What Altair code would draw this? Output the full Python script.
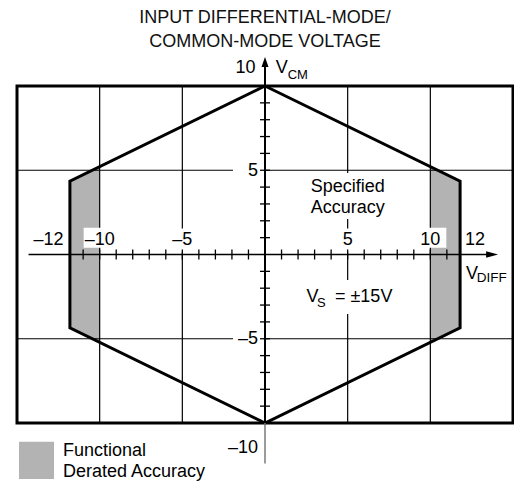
import altair as alt
import pandas as pd

FONT = "Liberation Sans"
INK = "#000000"
FILL_GRAY = "#b3b3b3"

# ---- data -------------------------------------------------------------
hex_x = [0, 11.8, 11.8, 0, -11.8, -11.8, 0]
hex_y = [10, 4.35, -4.35, -10, -4.35, 4.35, 10]

der_side = ["right", "right", "left", "left"]
der_x = [10, 11.8, -11.8, -10]
der_top = [5.2, 4.35, 4.35, 5.2]
der_bot = [-5.2, -4.35, -4.35, -5.2]

grid_x = [-10, -5, 5, 10]
grid_y = [-5, 5]

x_ticks = [v for v in range(-11, 12) if v != 0]
y_ticks = [v for v in range(-9, 10) if v != 0]

x_label_text = ["\u201312", "\u201310", "\u20135", "5", "10", "12"]
x_label_pos = [-13.1, -10, -5, 5, 10, 12.7]

# ---- scales -----------------------------------------------------------
xs = alt.Scale(domain=[-15, 15], nice=False, zero=False)
ys = alt.Scale(domain=[-10, 10], nice=False, zero=False)


def X(f):
    return alt.X(f, type="quantitative", scale=xs, axis=None)


def Y(f):
    return alt.Y(f, type="quantitative", scale=ys, axis=None)


def XD(v):
    return alt.X(datum=v, type="quantitative", scale=xs, axis=None)


def YD(v):
    return alt.Y(datum=v, type="quantitative", scale=ys, axis=None)


one = pd.DataFrame({"a": [0]})

hex_df = pd.DataFrame({"x": hex_x, "y": hex_y, "i": list(range(len(hex_x)))})
der_df = pd.DataFrame({"side": der_side, "x": der_x, "top": der_top, "bot": der_bot})
gx_df = pd.DataFrame({"x": grid_x})
gy_df = pd.DataFrame({"y": grid_y})
xt_df = pd.DataFrame({"x": x_ticks})
yt_df = pd.DataFrame({"y": y_ticks})
xl_df = pd.DataFrame({"x": x_label_pos, "t": x_label_text})

layers = []

# derated regions
layers.append(
    alt.Chart(der_df).mark_area(color=FILL_GRAY, opacity=1).encode(
        x=X("x"), y=Y("top"), y2=alt.Y2("bot"), detail="side"
    )
)

# grid lines
layers.append(
    alt.Chart(gx_df).mark_rule(color=INK, strokeWidth=1.2).encode(
        x=X("x"), y=YD(-10), y2=alt.Y2(datum=10)
    )
)
layers.append(
    alt.Chart(gy_df).mark_rule(color=INK, strokeWidth=1.2).encode(
        y=Y("y"), x=XD(-15), x2=alt.X2(datum=15)
    )
)


def shape(df, xf, yf, path, color="white", xo=0, yo=0):
    return alt.Chart(df).mark_point(
        shape=path, filled=True, color=color, opacity=1, size=4,
        strokeWidth=0, xOffset=xo, yOffset=yo
    ).encode(x=xf, y=yf)


# white label backgrounds
layers.append(shape(pd.DataFrame({"x": [-10, 10]}), X("x"), YD(0),
                    "M-16,-10H16V10H-16Z", yo=-16.7))
layers.append(shape(pd.DataFrame({"x": [-5, 5]}), X("x"), YD(0),
                    "M-15,-12H15V12H-15Z", yo=-14))
layers.append(shape(pd.DataFrame({"y": [-5, 5]}), XD(0), Y("y"),
                    "M-15.5,-8H15.5V8H-15.5Z", xo=-16.5))
layers.append(shape(one, XD(5), YD(5), "M-40,-23H40V23H-40Z", yo=25.75))
layers.append(shape(one, XD(5), YD(0), "M-44,-17H44V17H-44Z", yo=42.5))

# hexagon outline
layers.append(
    alt.Chart(hex_df).mark_line(color=INK, strokeWidth=3, strokeJoin="miter").encode(
        x=X("x"), y=Y("y"), order="i"
    )
)

# axes
layers.append(
    alt.Chart(one).mark_rule(color=INK, strokeWidth=1.5).encode(
        y=YD(0), x=XD(-14.3), x2=alt.X2(datum=13.6)
    )
)
layers.append(
    alt.Chart(one).mark_rule(color=INK, strokeWidth=2).encode(
        x=XD(0), y=YD(-10), y2=alt.Y2(datum=11.2)
    )
)
layers.append(
    alt.Chart(one).mark_rule(color="#7a7a7a", strokeWidth=1.5).encode(
        x=XD(0), y=YD(-12.4), y2=alt.Y2(datum=-10)
    )
)
# arrowheads
layers.append(shape(one, XD(14.1), YD(0), "M0,0L-12,-3.2L-12,3.2Z", color=INK))
layers.append(shape(one, XD(0), YD(11.72), "M0,0L-3.5,10L3.5,10Z", color=INK))

# tick marks
layers.append(
    alt.Chart(xt_df).mark_rule(color=INK, strokeWidth=1.3, yOffset=-5, y2Offset=5).encode(
        x=X("x"), y=YD(0), y2=alt.Y2(datum=0)
    )
)
layers.append(
    alt.Chart(yt_df).mark_rule(color=INK, strokeWidth=1.3, xOffset=-5, x2Offset=5).encode(
        y=Y("y"), x=XD(0), x2=alt.X2(datum=0)
    )
)


def txt(df, xf, yf, text, size=18, align="left", dx=0, dy=0, **kw):
    return alt.Chart(df).mark_text(
        font=FONT, fontSize=size, color=INK, align=align,
        baseline="alphabetic", dx=dx, dy=dy, text=text, **kw
    ).encode(x=xf, y=yf)


# x tick labels
layers.append(
    alt.Chart(xl_df).mark_text(font=FONT, fontSize=18, color=INK, align="center",
                               baseline="alphabetic", dy=-9.7).encode(
        x=X("x"), y=YD(0), text="t:N"
    )
)
# y tick labels
layers.append(txt(one, XD(0), YD(5), "5", align="right", dx=-7, dy=6))
layers.append(txt(one, XD(0), YD(-5), "\u20135", align="right", dx=-7, dy=5.5))
layers.append(txt(one, XD(0), YD(10), "10", align="right", dx=-9.5, dy=-13.3))
layers.append(txt(one, XD(0), YD(-10), "\u201310", align="right", dx=-7, dy=30.3))

# axis names
layers.append(txt(one, XD(0), YD(10), "V", dx=10.7, dy=-13.3))
layers.append(txt(one, XD(0), YD(10), "CM", size=13, dx=22.7, dy=-7))
layers.append(txt(one, XD(12), YD(0), "V", dx=2.6, dy=24.3))
layers.append(txt(one, XD(12), YD(0), "DIFF", size=13.5, dx=13.3, dy=27.7))

# region annotations
layers.append(txt(one, XD(5), YD(5), ["Specified", "Accuracy"], align="center",
                  dy=21.5, lineHeight=21))
layers.append(txt(one, XD(5), YD(0), "V", dx=-41.2, dy=47))
layers.append(txt(one, XD(5), YD(0), "S", size=13, dx=-30.7, dy=52.5))
layers.append(txt(one, XD(5), YD(0), "= \u00b115V", dx=-12.7, dy=47))

# title
layers.append(
    alt.Chart(one).mark_text(font=FONT, fontSize=18, color="#111111", align="center",
                             baseline="alphabetic", lineHeight=24,
                             text=["INPUT DIFFERENTIAL-MODE/", "COMMON-MODE VOLTAGE"]).encode(
        x=alt.value(248), y=alt.value(-63.5)
    )
)

# legend
layers.append(
    alt.Chart(one).mark_rect(color=FILL_GRAY).encode(
        x=alt.value(2), x2=alt.value(37), y=alt.value(355.7), y2=alt.value(393)
    )
)
layers.append(
    alt.Chart(one).mark_text(font=FONT, fontSize=18, color=INK, align="left",
                             baseline="alphabetic", lineHeight=21,
                             text=["Functional", "Derated Accuracy"]).encode(
        x=alt.value(46), y=alt.value(370)
    )
)

chart = alt.layer(*layers).properties(
    width=496, height=337, autosize="none",
    padding={"left": 9, "top": 78, "right": 1, "bottom": 61},
).configure_view(stroke=INK, strokeWidth=3)

chart.save("out.html", embed_options={"renderer": "svg", "actions": False})
